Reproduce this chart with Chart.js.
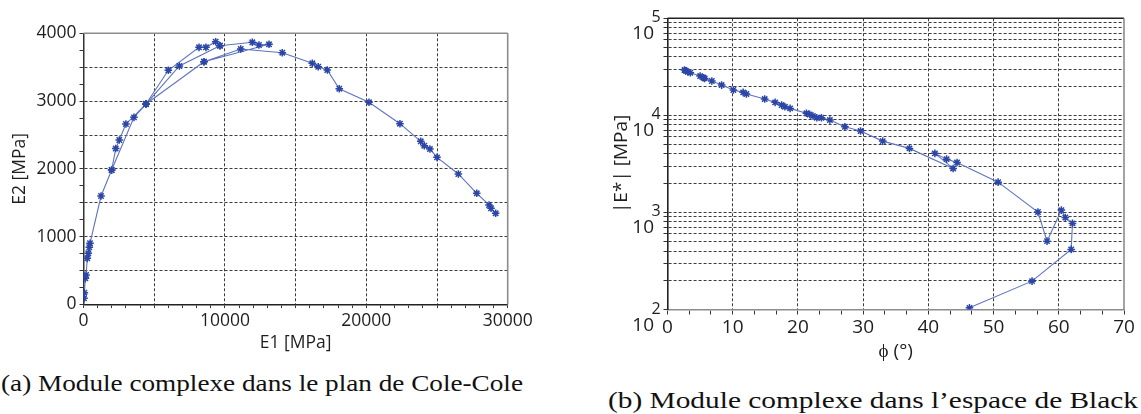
<!DOCTYPE html>
<html>
<head>
<meta charset="utf-8">
<script src="https://cdn.jsdelivr.net/npm/chart.js@4"></script>
<style>
  body { margin: 0; width: 1141px; height: 414px; background: #fff; position: relative; overflow: hidden; }
  canvas { position: absolute; }
  .cap { position: absolute; font-family: "Liberation Serif", serif; font-size: 23px; white-space: nowrap; transform-origin: 0 0; color: #111; }
</style>
</head>
<body>
<canvas id="cole" width="560" height="370" style="left:0;top:0"></canvas>
<canvas id="black" width="561" height="380" style="left:580px;top:0"></canvas>
<div class="cap" data-w="522" style="left:1px;top:371px">(a) Module complexe dans le plan de Cole-Cole</div>
<div class="cap" data-w="530" style="left:608px;top:388px">(b) Module complexe dans l’espace de Black</div>
<script>
// Cole-Cole plane, main path (E1, E2 in MPa)
const coleE1Main = [35, 60, 130, 180, 270, 340, 410, 460, 1240, 1990, 2280, 2530, 3000, 4420, 6000, 8170, 8660, 9350, 9650, 11940, 12410, 13120, 8520, 11120, 14060, 16180, 16600, 17240, 18090, 20190, 22380, 23850, 24100, 24500, 25000, 26510, 27810, 28680, 28820, 29150];
const coleE2Main = [91, 174, 386, 435, 681, 755, 844, 903, 1600, 1984, 2300, 2426, 2662, 2957, 3454, 3793, 3793, 3876, 3817, 3867, 3827, 3838, 3581, 3768, 3714, 3557, 3507, 3459, 3183, 2982, 2667, 2407, 2342, 2293, 2170, 1925, 1640, 1468, 1419, 1345];
// other isotherm branches that overlap the main path
const coleE1BranchA = [1990, 3570, 4420, 6780, 9650];
const coleE2BranchA = [1984, 2760, 2957, 3518, 3817];
const coleE1BranchB = [4420, 8520];
const coleE2BranchB = [2957, 3581];

// Black space (phase angle in degrees, |E*| in MPa)
const blackPhi = [2.6, 2.8, 3.1, 3.5, 5.0, 5.5, 5.7, 6.8, 8.3, 10.1, 11.6, 12.1, 14.9, 16.5, 17.5, 18.0, 18.8, 21.3, 21.8, 22.3, 22.9, 23.6, 24.9, 27.2, 29.6, 33.0, 37.1, 43.8, 41.0, 42.8, 44.4, 50.7, 56.8, 58.2, 60.4, 61.0, 62.1, 61.9, 55.9, 46.3];
const blackModulus = [29300, 28840, 28180, 27480, 25400, 24430, 24040, 22590, 20510, 18240, 17260, 16600, 14720, 13610, 12760, 12270, 11800, 10500, 10230, 9840, 9440, 9440, 8950, 7620, 6890, 5430, 4570, 2840, 4060, 3540, 3270, 2050, 1010, 506, 1057, 887, 771, 416, 196, 104];

const coleXLabels = [0, 10000, 20000, 30000];
const coleYLabels = [0, 1000, 2000, 3000, 4000];
const blackXLabels = [0, 10, 20, 30, 40, 50, 60, 70];
const blackYExponents = [2, 3, 4, 5];

const lineColor = '#5d74c0';
const markColor = '#2b46a6';
const gridColor = '#3c3c3c';
const textColor = '#1e1e1e';
const none = 'rgba(0,0,0,0)';

function pts(xs, ys) { return xs.map((x, i) => ({ x: x, y: ys[i] })); }

function series(data) {
  return {
    data: data, showLine: true, borderColor: lineColor, borderWidth: 1.1,
    pointStyle: 'star', pointRadius: 3.8, pointBorderColor: markColor,
    pointBorderWidth: 1.5, pointBackgroundColor: markColor
  };
}

const framePlugin = {
  id: 'frame',
  afterDraw(chart, args, opts) {
    const { ctx, chartArea: a } = chart;
    ctx.save();
    ctx.lineWidth = 1.6;
    ctx.strokeStyle = opts.topColor;
    ctx.beginPath(); ctx.moveTo(a.left, a.top); ctx.lineTo(a.right, a.top); ctx.stroke();
    ctx.strokeStyle = opts.rightColor;
    ctx.beginPath(); ctx.moveTo(a.right, a.top); ctx.lineTo(a.right, a.bottom); ctx.stroke();
    ctx.restore();
  }
};

const powerLabels = {
  id: 'powerLabels',
  afterDraw(chart) {
    const { ctx } = chart;
    const y = chart.scales.y;
    ctx.save();
    ctx.fillStyle = textColor;
    ctx.textBaseline = 'alphabetic';
    blackYExponents.forEach(e => {
      const py = y.getPixelForValue(Math.pow(10, e));
      ctx.font = '19px "Open Sans"';
      ctx.textAlign = 'right';
      ctx.fillText('10', 74, py + 21);
      ctx.font = '16px "Open Sans"';
      ctx.textAlign = 'left';
      ctx.fillText(String(e), 71.5, py + 4);
    });
    ctx.restore();
  }
};

const smallFont = { family: 'Open Sans', size: 17.5 };
const bigFont = { family: 'Open Sans', size: 19 };

new Chart(document.getElementById('cole'), {
  type: 'scatter',
  data: {
    datasets: [
      series(pts(coleE1BranchA, coleE2BranchA)),
      series(pts(coleE1BranchB, coleE2BranchB)),
      series(pts(coleE1Main, coleE2Main))
    ]
  },
  options: {
    responsive: false, animation: false, devicePixelRatio: 1,
    layout: { padding: { left: 0, top: 33.3, right: 52.3, bottom: 0 } },
    plugins: { legend: { display: false }, tooltip: { enabled: false },
      frame: { topColor: '#8c8c8c', rightColor: '#8c8c8c' } },
    scales: {
      x: {
        type: 'linear', min: 0, max: 30000,
        afterBuildTicks: ax => { const t = []; for (let v = 0; v <= 30000; v += 1000) t.push({ value: v }); ax.ticks = t; },
        afterFit: ax => { ax.height = 65.5; },
        ticks: { autoSkip: false, maxRotation: 0, padding: 3, font: smallFont, color: textColor,
          callback: v => coleXLabels.includes(v) ? String(v) : '' },
        grid: { lineWidth: 1, tickLength: 3.5, tickColor: '#333',
          color: c => (c.tick && c.tick.value % 5000 === 0 && c.tick.value > 0 && c.tick.value < 30000) ? gridColor : none },
        border: { display: true, color: '#222', width: 1.5, dash: [3, 2] },
        title: { display: true, text: 'E1 [MPa]', font: smallFont, color: textColor, padding: { top: 0, bottom: 16 } }
      },
      y: {
        type: 'linear', min: 0, max: 4000,
        afterBuildTicks: ax => { const t = []; for (let v = 0; v <= 4000; v += 250) t.push({ value: v }); ax.ticks = t; },
        afterFit: ax => { ax.width = 83.5; },
        ticks: { autoSkip: false, padding: 3, font: smallFont, color: textColor,
          callback: v => coleYLabels.includes(v) ? String(v) : '' },
        grid: { lineWidth: 1, tickLength: 4, tickColor: '#333',
          color: c => (c.tick && c.tick.value % 500 === 0 && c.tick.value > 0 && c.tick.value < 4000) ? gridColor : none },
        border: { display: true, color: '#333', width: 1.5, dash: [3, 2] },
        title: { display: true, text: 'E2 [MPa]', font: smallFont, color: textColor, padding: { top: 9.5, bottom: 0 } }
      }
    }
  },
  plugins: [framePlugin]
});

new Chart(document.getElementById('black'), {
  type: 'scatter',
  data: { datasets: [series(pts(blackPhi, blackModulus))] },
  options: {
    responsive: false, animation: false, devicePixelRatio: 1,
    layout: { padding: { left: 0, top: 18.3, right: 17, bottom: 0 } },
    plugins: { legend: { display: false }, tooltip: { enabled: false },
      frame: { topColor: '#222', rightColor: '#8c8c8c' } },
    scales: {
      x: {
        type: 'linear', min: 0, max: 70,
        afterBuildTicks: ax => { const t = []; for (let i = 0; i <= 21; i++) t.push({ value: i * 10 / 3 }); ax.ticks = t; },
        afterFit: ax => { ax.height = 70.5; },
        ticks: { autoSkip: false, maxRotation: 0, padding: 2, font: bigFont, color: textColor,
          callback: v => { const r = Math.round(v); return (Math.abs(v - r) < 1e-6 && blackXLabels.includes(r)) ? String(r) : ''; } },
        grid: { lineWidth: 1, tickLength: 5, tickColor: '#333',
          color: c => { if (!c.tick) return none; const v = c.tick.value; const r = Math.round(v);
            return (Math.abs(v - r) < 1e-6 && r % 10 === 0 && r > 0 && r < 70) ? gridColor : none; } },
        border: { display: true, color: '#8c8c8c', width: 1.6, dash: [3, 2] },
        title: { display: true, text: 'ϕ (°)', font: bigFont, color: textColor, padding: { top: 0, bottom: 16.6 } }
      },
      y: {
        type: 'logarithmic', min: 100, max: 100000,
        afterBuildTicks: ax => { const t = []; for (let e = 2; e <= 4; e++) for (let m = 1; m < 10; m++) t.push({ value: m * Math.pow(10, e) }); t.push({ value: 100000 }); ax.ticks = t; },
        afterFit: ax => { ax.width = 87.5; },
        ticks: { autoSkip: false, font: bigFont, color: textColor, callback: () => '' },
        grid: { lineWidth: 1, tickLength: 4, tickColor: '#333',
          color: c => (c.tick && c.tick.value > 100 && c.tick.value < 100000) ? gridColor : none },
        border: { display: true, color: '#222', width: 1.6, dash: [3, 2] },
        title: { display: true, text: '|E*| [MPa]', font: bigFont, color: textColor, padding: { top: 30.6, bottom: 0 } }
      }
    }
  },
  plugins: [framePlugin, powerLabels]
});

document.querySelectorAll('.cap').forEach(el => {
  const w = el.getBoundingClientRect().width;
  el.style.transform = 'scaleX(' + (el.dataset.w / w) + ')';
});
</script>
</body>
</html>
